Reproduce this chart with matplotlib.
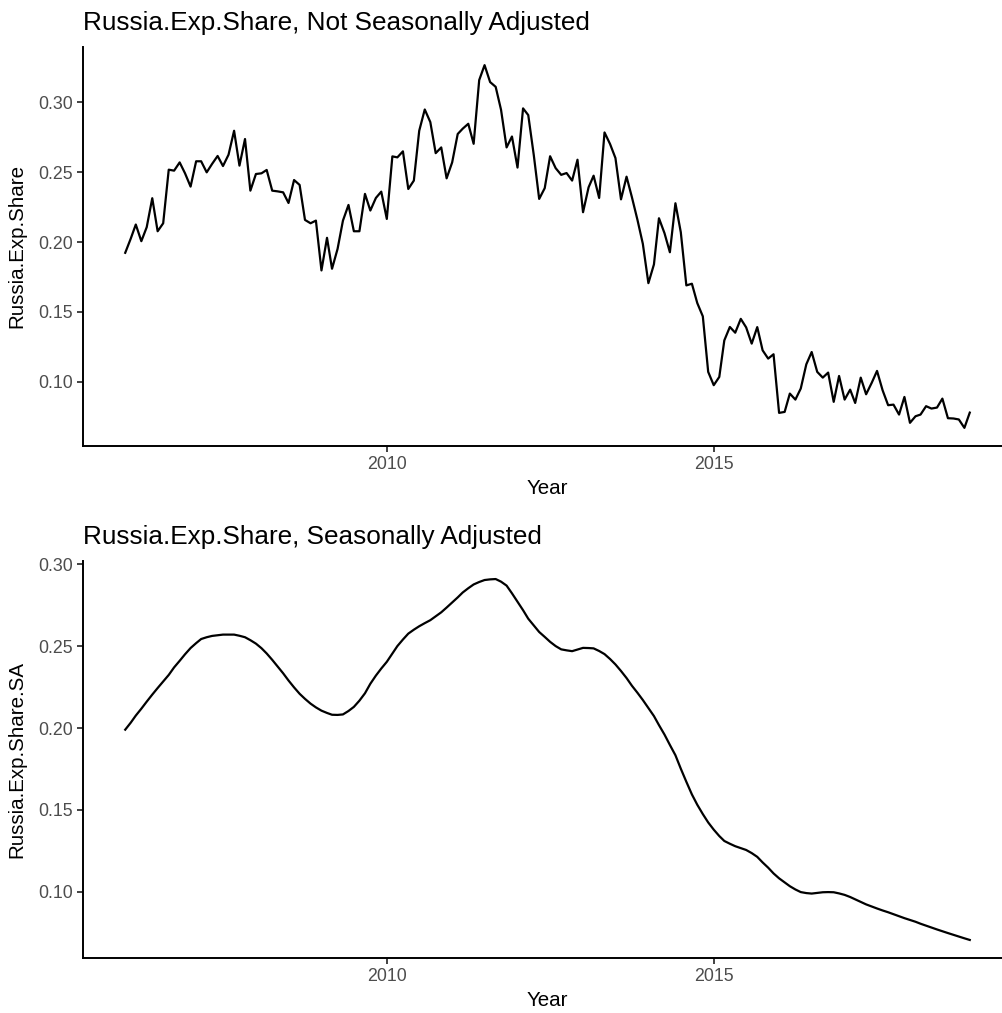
import numpy as np
import pandas as pd
import matplotlib
matplotlib.use('Agg')
import matplotlib.pyplot as plt
import matplotlib.dates as mdates

plt.rcParams['font.family'] = ['Liberation Sans', 'DejaVu Sans']

# monthly observations, Jan 2006 - Dec 2018
months = pd.date_range('2006-01-01', '2018-12-01', freq='MS')

# Russia share of exports, raw
exp_share = np.array([
    0.1923, 0.2025, 0.2125, 0.2006, 0.2106, 0.2313, 0.2077, 0.2134, 0.2517, 0.2510, 0.2569, 0.2491,  # 2006
    0.2396, 0.2577, 0.2577, 0.2498, 0.2558, 0.2615, 0.2543, 0.2624, 0.2795, 0.2546, 0.2736, 0.2367,  # 2007
    0.2486, 0.2491, 0.2515, 0.2367, 0.2362, 0.2355, 0.2279, 0.2443, 0.2408, 0.2158, 0.2134, 0.2153,  # 2008
    0.1797, 0.2030, 0.1809, 0.1951, 0.2153, 0.2265, 0.2077, 0.2077, 0.2344, 0.2225, 0.2315, 0.2360,  # 2009
    0.2165, 0.2612, 0.2605, 0.2648, 0.2379, 0.2439, 0.2795, 0.2947, 0.2857, 0.2635, 0.2676, 0.2455,  # 2010
    0.2569, 0.2772, 0.2810, 0.2845, 0.2702, 0.3157, 0.3264, 0.3143, 0.3109, 0.2945, 0.2676, 0.2754,  # 2011
    0.2532, 0.2955, 0.2907, 0.2620, 0.2308, 0.2385, 0.2613, 0.2528, 0.2480, 0.2493, 0.2439, 0.2588,  # 2012
    0.2213, 0.2391, 0.2474, 0.2315, 0.2783, 0.2700, 0.2600, 0.2305, 0.2467, 0.2320, 0.2158, 0.1987,  # 2013
    0.1706, 0.1840, 0.2170, 0.2063, 0.1927, 0.2277, 0.2070, 0.1690, 0.1702, 0.1564, 0.1469, 0.1072,  # 2014
    0.0977, 0.1036, 0.1297, 0.1393, 0.1352, 0.1451, 0.1390, 0.1274, 0.1392, 0.1226, 0.1167, 0.1198,  # 2015
    0.0779, 0.0786, 0.0917, 0.0874, 0.0953, 0.1126, 0.1214, 0.1072, 0.1031, 0.1067, 0.0858, 0.1043,  # 2016
    0.0874, 0.0945, 0.0850, 0.1031, 0.0912, 0.0993, 0.1079, 0.0941, 0.0834, 0.0838, 0.0767, 0.0893,  # 2017
    0.0708, 0.0755, 0.0767, 0.0827, 0.0810, 0.0817, 0.0881, 0.0741, 0.0739, 0.0732, 0.0672, 0.0781,  # 2018
])

# same series after seasonal adjustment
exp_share_sa = np.array([
    0.1990, 0.2033, 0.2076, 0.2118, 0.2161, 0.2204, 0.2244, 0.2284, 0.2324, 0.2370, 0.2410, 0.2450,
    0.2488, 0.2518, 0.2543, 0.2554, 0.2562, 0.2566, 0.2570, 0.2570, 0.2570, 0.2563, 0.2554, 0.2536,
    0.2515, 0.2487, 0.2455, 0.2416, 0.2376, 0.2334, 0.2290, 0.2248, 0.2209, 0.2178, 0.2149, 0.2126,
    0.2106, 0.2092, 0.2081, 0.2080, 0.2083, 0.2104, 0.2129, 0.2167, 0.2212, 0.2270, 0.2320, 0.2363,
    0.2404, 0.2455, 0.2500, 0.2540, 0.2576, 0.2600, 0.2621, 0.2640, 0.2658, 0.2682, 0.2706, 0.2735,
    0.2766, 0.2797, 0.2827, 0.2853, 0.2876, 0.2891, 0.2903, 0.2907, 0.2909, 0.2893, 0.2869, 0.2822,
    0.2771, 0.2719, 0.2667, 0.2626, 0.2586, 0.2556, 0.2526, 0.2500, 0.2480, 0.2474, 0.2469, 0.2479,
    0.2489, 0.2488, 0.2486, 0.2470, 0.2451, 0.2421, 0.2388, 0.2348, 0.2305, 0.2258, 0.2215, 0.2171,
    0.2122, 0.2073, 0.2018, 0.1960, 0.1897, 0.1834, 0.1752, 0.1672, 0.1595, 0.1532, 0.1475, 0.1424,
    0.1380, 0.1341, 0.1311, 0.1294, 0.1279, 0.1267, 0.1256, 0.1237, 0.1214, 0.1180, 0.1148, 0.1113,
    0.1083, 0.1058, 0.1035, 0.1015, 0.0999, 0.0993, 0.0990, 0.0994, 0.0998, 0.0999, 0.0998, 0.0991,
    0.0982, 0.0969, 0.0955, 0.0939, 0.0924, 0.0911, 0.0899, 0.0887, 0.0876, 0.0864, 0.0852, 0.0840,
    0.0829, 0.0818, 0.0806, 0.0794, 0.0782, 0.0771, 0.0760, 0.0749, 0.0738, 0.0727, 0.0717, 0.0707,
])

W, H = 1003, 1013
fig = plt.figure(figsize=(W / 100, H / 100), dpi=100)


def add_panel(top, bottom, y, title, ylabel):
    # panel box in pixels; right edge runs a little past the canvas
    left, right = 83, 1012
    ax = fig.add_axes([left / W, 1 - bottom / H, (right - left) / W, (bottom - top) / H])
    ax.plot(months, y, color='black', lw=1.6)

    span = months[-1] - months[0]
    ax.set_xlim(months[0] - span * 0.05, months[-1] + span * 0.05)
    r = y.max() - y.min()
    ax.set_ylim(y.min() - 0.05 * r, y.max() + 0.05 * r)

    ax.xaxis.set_major_locator(mdates.YearLocator(5))
    ax.xaxis.set_major_formatter(mdates.DateFormatter('%Y'))
    ax.set_yticks([0.10, 0.15, 0.20, 0.25, 0.30])
    ax.yaxis.set_major_formatter(matplotlib.ticker.FormatStrFormatter('%.2f'))

    for s in ['top', 'right']:
        ax.spines[s].set_visible(False)
    for s in ['left', 'bottom']:
        ax.spines[s].set_linewidth(1.4)
        ax.spines[s].set_color('black')
    ax.tick_params(length=4, width=1.3, color='#333333', labelcolor='#4D4D4D',
                   labelsize=12.8, pad=3)

    fig.text(left / W, 1 - (top - 17) / H, title, fontsize=18.8, va='baseline', ha='left')
    fig.text(17 / W, 1 - ((top + bottom) / 2) / H, ylabel, fontsize=14.8,
             rotation=90, va='center', ha='center')
    fig.text((left + right) / 2 / W, 1 - (bottom + 42) / H, 'Year', fontsize=14.8,
             va='center', ha='center')
    return ax


add_panel(47, 446, exp_share, 'Russia.Exp.Share, Not Seasonally Adjusted', 'Russia.Exp.Share')
add_panel(561, 958, exp_share_sa, 'Russia.Exp.Share, Seasonally Adjusted', 'Russia.Exp.Share.SA')

fig.savefig('out.png', dpi=100, facecolor='white')
